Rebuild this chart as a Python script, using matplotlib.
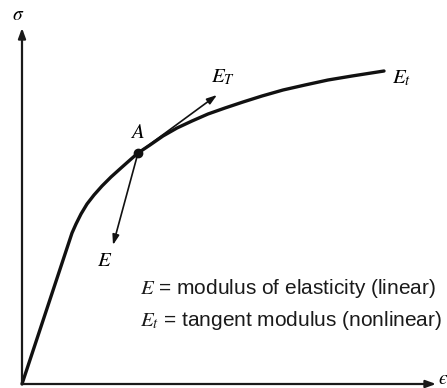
import matplotlib
matplotlib.use("Agg")
import matplotlib.pyplot as plt

plt.rcParams['mathtext.fontset'] = 'stix'
plt.rcParams['font.family'] = ['Liberation Sans', 'DejaVu Sans']

# stress-strain curve (arbitrary units, strain vs stress)
strain = [0, 50, 54, 59, 65, 72, 80, 89, 99, 108, 116, 128, 141, 155, 170,
          186, 203, 221, 240, 261, 283, 306, 330, 362]
stress = [0, 151, 160, 170, 180, 189, 198, 207, 216, 224, 231, 239, 248, 256,
          263, 270, 276, 282, 288, 294, 299, 304, 308, 313]

point_A = (116, 231)
tangent_tip = (195, 289)   # E_T arrow
initial_tip = (91, 139)    # E arrow

axis_x_end = 414
axis_y_end = 356

legend_lines = [r'$E$ = modulus of elasticity (linear)',
                r'$E_t$ = tangent modulus (nonlinear)']

fig = plt.figure(figsize=(4.47, 3.88), dpi=100)
ax = fig.add_axes([0, 0, 1, 1])
ax.set_xlim(-22, 425)
ax.set_ylim(-4, 384)
ax.axis('off')

# axes arrows
ax.annotate('', xy=(axis_x_end, 0), xytext=(0, 0),
            arrowprops=dict(arrowstyle='-|>,head_length=0.6,head_width=0.22',
                            lw=1.6, color='#1a1a1a', shrinkA=0, shrinkB=0))
ax.annotate('', xy=(0, axis_y_end), xytext=(0, 0),
            arrowprops=dict(arrowstyle='-|>,head_length=0.6,head_width=0.22',
                            lw=1.6, color='#1a1a1a', shrinkA=0, shrinkB=0))

# curve
ax.plot(strain, stress, color='#111111', lw=2.4, solid_capstyle='round',
        solid_joinstyle='round')

# point A
ax.plot(*point_A, 'o', color='#111111', ms=6)

# tangent arrows
ax.annotate('', xy=tangent_tip, xytext=point_A,
            arrowprops=dict(arrowstyle='-|>,head_length=0.6,head_width=0.2',
                            lw=1.2, color='#111111', shrinkA=0, shrinkB=0))
ax.annotate('', xy=initial_tip, xytext=point_A,
            arrowprops=dict(arrowstyle='-|>,head_length=0.6,head_width=0.2',
                            lw=1.2, color='#111111', shrinkA=0, shrinkB=0))

fs = 15
ax.text(-4, 369, r'$\sigma$', fontsize=14, ha='center', va='center')
ax.text(416, 5, '$\u03f5$', fontsize=14, ha='left', va='center')
ax.text(115, 251, r'$A$', fontsize=fs, ha='center', va='center')
ax.text(201, 307, r'$E_T$', fontsize=fs, ha='center', va='center')
ax.text(380, 306, r'$E_t$', fontsize=fs, ha='center', va='center')
ax.text(83, 124, r'$E$', fontsize=fs, ha='center', va='center')

ax.text(118, 96, legend_lines[0], fontsize=fs, ha='left', va='center',
        color='#1a1a1a')
ax.text(118, 64, legend_lines[1], fontsize=fs, ha='left', va='center',
        color='#1a1a1a')

fig.savefig('out.png', dpi=100)
